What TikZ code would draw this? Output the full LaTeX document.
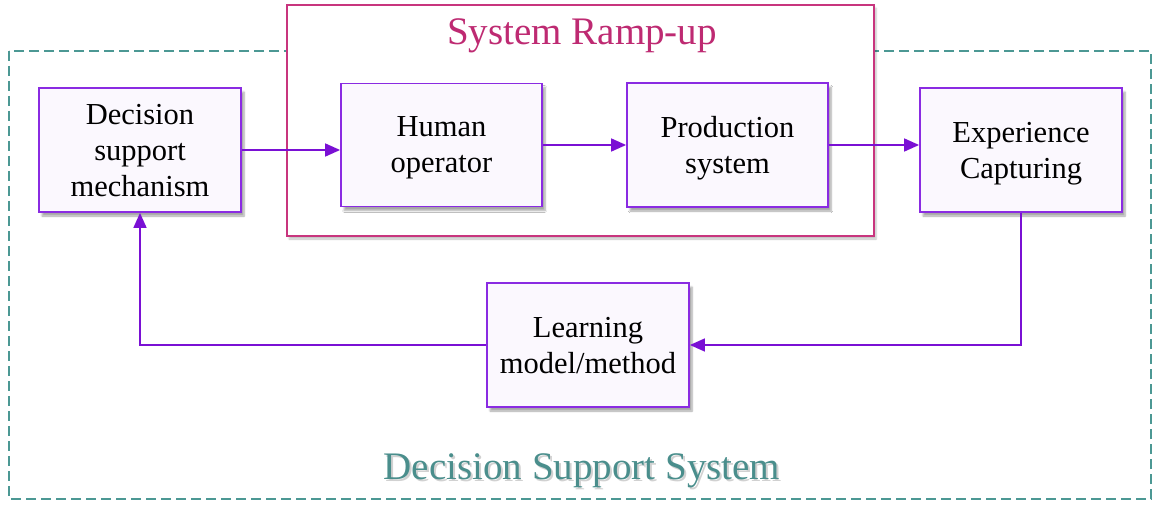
\documentclass[tikz,border=0pt]{standalone}
\usepackage{fontspec}
\setmainfont{Liberation Serif}
\usetikzlibrary{arrows.meta,shadows.blur}
\definecolor{boxline}{HTML}{8A2BE2}
\definecolor{boxfill}{HTML}{FBF8FE}
\definecolor{flow}{HTML}{7A10D4}
\definecolor{ramp}{HTML}{C8357E}
\definecolor{ramptext}{HTML}{BE2A72}
\definecolor{dss}{HTML}{4C9894}
\definecolor{dsstext}{HTML}{4A8E8C}
\tikzset{
  block/.style={draw=boxline, fill=boxfill, line width=1.8pt,
    minimum width=202pt, minimum height=124pt, align=center,
    font=\fontsize{30.5}{36}\selectfont, inner sep=0pt, text depth=0pt,
    blur shadow={shadow xshift=3pt, shadow yshift=-4pt, shadow blur steps=6, shadow opacity=35}},
  arr/.style={draw=flow, line width=1.6pt, -{Triangle[length=15pt,width=13pt]}},
  title/.style={font=\fontsize{39}{42}\selectfont, inner sep=0pt}
}
\begin{document}
\begin{tikzpicture}[x=1pt, y=-1pt]
  \useasboundingbox (0,0) rectangle (1153,505);
  % outer dashed frame of the decision support system
  \draw[dss, line width=1.6pt, dash pattern=on 10pt off 5pt]
    (9,51) rectangle (1151,499);
  % ramp-up frame
  \draw[ramp, fill=white, line width=1.8pt,
    blur shadow={shadow xshift=2pt, shadow yshift=-3pt, shadow blur steps=5, shadow opacity=25}]
    (287,5) rectangle (874,236);
  \node[title, text=ramptext] (ramptitle) at (582,36) {System Ramp-up};
  % blocks
  \node[block] (dec) at (140,150) {Decision\\support\\mechanism};
  \node[block, minimum width=201pt, minimum height=123pt] (hum) at (441.5,145) {Human\\operator};
  \node[block, minimum width=201pt] (prod) at (727.5,145) {Production\\system};
  \node[block] (exp) at (1021,150) {Experience\\Capturing};
  \node[block] (learn) at (588,345) {Learning\\model/method};
  % connectors
  \draw[arr] (dec.east) -- (dec.east -| hum.west);
  \draw[arr] (hum.east) -- (hum.east -| prod.west);
  \draw[arr] (prod.east) -- (prod.east -| exp.west);
  \draw[arr] (exp.south) |- (learn.east);
  \draw[arr] (learn.west) -| (dec.south);
  % system label with its soft shadow
  \node[title, text=black!30, opacity=0.6] (dssshade) at (584,473) {Decision Support System};
  \node[title, text=dsstext] (dsstitle) at (582,471) {Decision Support System};
\end{tikzpicture}
\end{document}
